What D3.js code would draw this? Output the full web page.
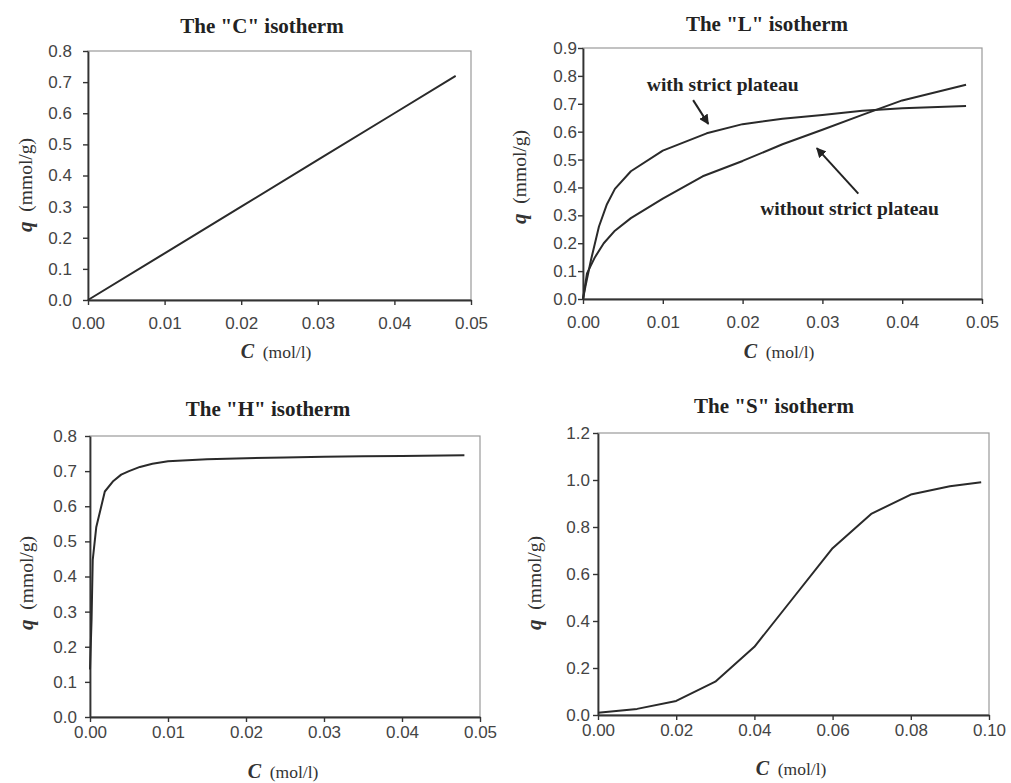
<!DOCTYPE html>
<html>
<head>
<meta charset="utf-8">
<script src="https://cdn.jsdelivr.net/npm/d3@7"></script>
<style>
  html, body { margin: 0; padding: 0; background: #fff; }
  svg { display: block; }
  .tick text { font-family: "Liberation Sans", Arial, sans-serif; font-size: 17px; fill: #444; }
  .ttl { font-family: "Liberation Serif", "Times New Roman", serif; font-weight: bold; font-size: 21px; fill: #222; }
  .xlbl { font-family: "Liberation Serif", "Times New Roman", serif; font-size: 17.5px; fill: #333; }
  .ylbl { font-family: "Liberation Serif", "Times New Roman", serif; font-size: 19.5px; fill: #333; }
  .note { font-family: "Liberation Serif", "Times New Roman", serif; font-weight: bold; font-size: 19.5px; fill: #222; }
</style>
</head>
<body>
<svg id="fig" width="1011" height="783"></svg>
<script>
// ---- "C" isotherm (linear) ----
const cC = [0, 0.01, 0.02, 0.03, 0.04, 0.048];
const qC = [0, 0.15, 0.30, 0.45, 0.60, 0.72];

// ---- "L" isotherm, with strict plateau ----
const cLplat = [0, 0.0003, 0.001, 0.002, 0.003, 0.004, 0.006, 0.01, 0.0155, 0.02, 0.025, 0.03, 0.035, 0.04, 0.048];
const qLplat = [0, 0.045, 0.14, 0.26, 0.34, 0.395, 0.458, 0.532, 0.594, 0.627, 0.646, 0.66, 0.675, 0.684, 0.692];

// ---- "L" isotherm, without strict plateau ----
const cLfree = [0, 0.0005, 0.0015, 0.0026, 0.004, 0.006, 0.01, 0.015, 0.02, 0.025, 0.03, 0.035, 0.04, 0.048];
const qLfree = [0, 0.092, 0.15, 0.2, 0.245, 0.29, 0.36, 0.44, 0.495, 0.555, 0.607, 0.66, 0.712, 0.768];

// ---- "H" isotherm (high affinity) ----
const cH = [0, 0.0002, 0.00035, 0.0008, 0.0019, 0.003, 0.004, 0.005, 0.0064, 0.008, 0.01, 0.015, 0.02, 0.025, 0.03, 0.035, 0.04, 0.048];
const qH = [0.135, 0.277, 0.447, 0.54, 0.642, 0.672, 0.69, 0.70, 0.712, 0.721, 0.728, 0.734, 0.737, 0.739, 0.741, 0.742, 0.743, 0.745];

// ---- "S" isotherm (sigmoidal) ----
const cS = [0, 0.01, 0.02, 0.03, 0.04, 0.05, 0.06, 0.07, 0.08, 0.09, 0.098];
const qS = [0.01, 0.026, 0.06, 0.142, 0.29, 0.50, 0.71, 0.857, 0.938, 0.973, 0.99];

// ---- axis ticks ----
const xTicks05 = [0, 0.01, 0.02, 0.03, 0.04, 0.05];
const xTicks10 = [0, 0.02, 0.04, 0.06, 0.08, 0.10];
const yTicks08 = [0, 0.1, 0.2, 0.3, 0.4, 0.5, 0.6, 0.7, 0.8];
const yTicks09 = [0, 0.1, 0.2, 0.3, 0.4, 0.5, 0.6, 0.7, 0.8, 0.9];
const yTicks12 = [0, 0.2, 0.4, 0.6, 0.8, 1.0, 1.2];

const titles = ['The "C" isotherm', 'The "L" isotherm', 'The "H" isotherm', 'The "S" isotherm'];

const svg = d3.select("#fig");
const zip = (xs, ys) => xs.map((x, i) => [x, ys[i]]);

const panels = [
  { box: [88, 51, 471, 300], xDom: [0, 0.05], yDom: [0, 0.8], xT: xTicks05, yT: yTicks08,
    title: titles[0], tX: 262, tY: 33, xlX: 276, xlY: 358, ylX: 32, ylY: 185, yPad: 11, xPad: 12,
    series: [zip(cC, qC)] },
  { box: [583, 48, 982, 299], xDom: [0, 0.05], yDom: [0, 0.9], xT: xTicks05, yT: yTicks09,
    title: titles[1], tX: 767, tY: 31, xlX: 779, xlY: 358, ylX: 526, ylY: 177, yPad: 1, xPad: 12,
    series: [zip(cLplat, qLplat), zip(cLfree, qLfree)] },
  { box: [90, 436, 480, 717], xDom: [0, 0.05], yDom: [0, 0.8], xT: xTicks05, yT: yTicks08,
    title: titles[2], tX: 268, tY: 416, xlX: 283, xlY: 778, ylX: 33, ylY: 583, yPad: 8, xPad: 4,
    series: [zip(cH, qH)] },
  { box: [598, 433, 989, 715], xDom: [0, 0.10], yDom: [0, 1.2], xT: xTicks10, yT: yTicks12,
    title: titles[3], tX: 774, tY: 413, xlX: 791, xlY: 775, ylX: 541, ylY: 583, yPad: 3, xPad: 4,
    series: [zip(cS, qS)] }
];

panels.forEach(p => {
  const [x0, y0, x1, y1] = p.box;
  const x = d3.scaleLinear().domain(p.xDom).range([x0, x1]);
  const y = d3.scaleLinear().domain(p.yDom).range([y1, y0]);
  const g = svg.append("g");

  // plot-area frame (top and right edges in light grey)
  g.append("rect").attr("x", x0).attr("y", y0).attr("width", x1 - x0).attr("height", y1 - y0)
    .attr("fill", "none").attr("stroke", "#9a9a9a").attr("stroke-width", 1.2);

  const xa = g.append("g").attr("transform", `translate(0,${y1})`)
    .call(d3.axisBottom(x).tickValues(p.xT).tickFormat(d3.format(".2f"))
      .tickSize(5).tickSizeOuter(0).tickPadding(p.xPad));
  const ya = g.append("g").attr("transform", `translate(${x0},0)`)
    .call(d3.axisLeft(y).tickValues(p.yT).tickFormat(d3.format(".1f"))
      .tickSize(5).tickSizeOuter(0).tickPadding(p.yPad));
  [xa, ya].forEach(a => {
    a.select(".domain").attr("stroke", "#333").attr("stroke-width", 1.8);
    a.selectAll(".tick line").attr("stroke", "#333").attr("stroke-width", 1.4);
  });

  const line = d3.line().x(d => x(d[0])).y(d => y(d[1]));
  p.series.forEach(s => {
    g.append("path").attr("d", line(s)).attr("fill", "none")
      .attr("stroke", "#2a2a2a").attr("stroke-width", 2).attr("stroke-linejoin", "round");
  });

  g.append("text").attr("class", "ttl").attr("x", p.tX).attr("y", p.tY)
    .attr("text-anchor", "middle").text(p.title);

  const xl = g.append("text").attr("class", "xlbl").attr("x", p.xlX).attr("y", p.xlY)
    .attr("text-anchor", "middle");
  xl.append("tspan").attr("font-weight", "bold").attr("font-style", "italic").attr("font-size", 20).text("C");
  xl.append("tspan").text("\u00a0 (mol/l)");

  const yl = g.append("text").attr("class", "ylbl")
    .attr("transform", `translate(${p.ylX},${p.ylY}) rotate(-90)`).attr("text-anchor", "middle");
  yl.append("tspan").attr("font-weight", "bold").attr("font-style", "italic").attr("font-size", 21).text("q");
  yl.append("tspan").text("\u00a0 (mmol/g)");

  p.x = x; p.y = y; p.g = g;
});

// annotations on the "L" panel
const L = panels[1];
svg.append("defs").append("marker").attr("id", "head").attr("viewBox", "0 0 10 10")
  .attr("refX", 9).attr("refY", 5).attr("markerWidth", 10).attr("markerHeight", 10)
  .attr("markerUnits", "userSpaceOnUse").attr("orient", "auto")
  .append("path").attr("d", "M0,0 L10,5 L0,10 z").attr("fill", "#222");

const notes = [
  { text: "with strict plateau", c: 0.0080, q: 0.745, from: [0.0138, 0.713], to: [0.0157, 0.628] },
  { text: "without strict plateau", c: 0.0222, q: 0.300, from: [0.0345, 0.378], to: [0.0293, 0.541] }
];
notes.forEach(n => {
  L.g.append("text").attr("class", "note").attr("x", L.x(n.c)).attr("y", L.y(n.q)).text(n.text);
  L.g.append("line")
    .attr("x1", L.x(n.from[0])).attr("y1", L.y(n.from[1]))
    .attr("x2", L.x(n.to[0])).attr("y2", L.y(n.to[1]))
    .attr("stroke", "#222").attr("stroke-width", 2).attr("marker-end", "url(#head)");
});
</script>
</body>
</html>
